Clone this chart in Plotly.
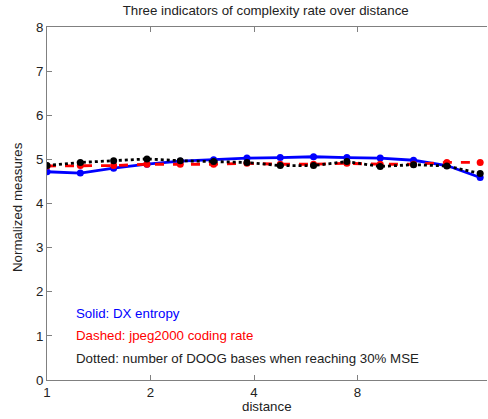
import math
import plotly.graph_objects as go

distance = [1, 1.25, 1.5625, 1.953, 2.441, 3.052, 3.815, 4.768, 5.960, 7.451, 9.313, 11.642, 14.552, 18.190]
dx_entropy = [4.72, 4.69, 4.80, 4.89, 4.96, 4.99, 5.03, 5.04, 5.06, 5.04, 5.03, 4.98, 4.86, 4.59]
jpeg2000_rate = [4.85, 4.86, 4.86, 4.89, 4.89, 4.89, 4.91, 4.89, 4.89, 4.91, 4.89, 4.89, 4.93, 4.93]
doog_bases = [4.86, 4.93, 4.97, 5.01, 4.97, 4.95, 4.93, 4.86, 4.86, 4.95, 4.84, 4.88, 4.85, 4.68]
x_ticks = [1, 2, 4, 8]
y_ticks = [0, 1, 2, 3, 4, 5, 6, 7, 8]

font = "Liberation Sans, Arial, sans-serif"
fs = 13.3
txtcol = "#222222"
fig = go.Figure()
fig.add_trace(go.Scatter(x=distance, y=dx_entropy, mode="lines+markers",
                         line=dict(color="#0000ff", width=2.8, dash="solid"),
                         marker=dict(color="#0000ff", size=7), name="DX entropy"))
fig.add_trace(go.Scatter(x=distance, y=jpeg2000_rate, mode="lines+markers",
                         line=dict(color="#ff0000", width=2.8, dash="dash"),
                         marker=dict(color="#ff0000", size=7), name="jpeg2000"))
fig.add_trace(go.Scatter(x=distance, y=doog_bases, mode="lines+markers",
                         line=dict(color="#000000", width=2.8, dash="dot"),
                         marker=dict(color="#000000", size=7), name="DOOG"))
fig.add_trace(go.Scatter(x=[distance[0]], y=[dx_entropy[0]], xaxis="x2", mode="markers",
                         marker=dict(opacity=0), hoverinfo="skip", showlegend=False))

xr = [0, math.log10(19.04)]
axcol = "#808080"
fig.update_layout(
    width=488, height=419,
    margin=dict(l=47, r=1, t=27, b=39),
    paper_bgcolor="white", plot_bgcolor="white",
    showlegend=False,
    font=dict(family=font, size=fs, color=txtcol),
    title=dict(text="Three indicators of complexity rate over distance", xref="paper", x=0.497,
               xanchor="center", yref="container", y=1 - 10 / 419, yanchor="middle",
               font=dict(family=font, size=fs, color=txtcol)),
    xaxis=dict(type="log", range=xr, tickvals=x_ticks, ticktext=[str(v) for v in x_ticks],
               ticks="inside", ticklen=5, tickcolor=axcol, showline=True, linecolor=axcol,
               linewidth=1, showgrid=False, zeroline=False, automargin=False),
    xaxis2=dict(type="log", range=xr, overlaying="x", side="top", tickvals=x_ticks,
                showticklabels=False, ticks="inside", ticklen=5, tickcolor=axcol,
                showline=True, linecolor=axcol, linewidth=1, showgrid=False, zeroline=False,
                automargin=False),
    yaxis=dict(range=[0, 8], tickvals=y_ticks, ticks="inside", ticklen=5, tickcolor=axcol,
               showline=True, linecolor=axcol, linewidth=1, showgrid=False, zeroline=False,
               automargin=False),
    annotations=[
        dict(text="distance", xref="paper", yref="paper", x=0.5, y=-27 / 353,
             xanchor="center", yanchor="middle", showarrow=False, font=dict(size=fs, color=txtcol)),
        dict(text="Normalized measures", xref="paper", yref="paper", x=-30 / 440, y=0.49,
             xanchor="center", yanchor="middle", textangle=-90, showarrow=False,
             font=dict(size=fs, color=txtcol)),
        dict(text="Solid: DX entropy", xref="paper", yref="paper", x=0.061, y=0.187,
             xanchor="left", yanchor="middle", showarrow=False, font=dict(color="#0000ff", size=fs)),
        dict(text="Dashed: jpeg2000 coding rate", xref="paper", yref="paper", x=0.061, y=0.125,
             xanchor="left", yanchor="middle", showarrow=False, font=dict(color="#ff0000", size=fs)),
        dict(text="Dotted: number of DOOG bases when reaching 30% MSE", xref="paper", yref="paper",
             x=0.061, y=0.062, xanchor="left", yanchor="middle", showarrow=False,
             font=dict(color=txtcol, size=fs)),
    ],
)
fig.write_html("out.html", config={"displayModeBar": False},
               post_script="document.body.style.margin='0';")
